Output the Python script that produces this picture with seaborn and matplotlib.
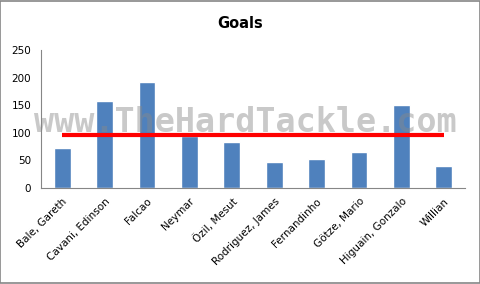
import matplotlib
matplotlib.use("Agg")
import matplotlib.pyplot as plt
import seaborn as sns
import pandas as pd
from matplotlib.patches import Rectangle

players = ["Bale, Gareth", "Cavani, Edinson", "Falcao", "Neymar", "Özil, Mesut",
           "Rodriguez, James", "Fernandinho", "Götze, Mario", "Higuain, Gonzalo", "Willian"]
goals = [73, 158, 192, 95, 83, 47, 52, 65, 150, 40]
average = sum(goals) / len(goals)
yticks = [0, 50, 100, 150, 200, 250]

sns.set_theme(style="white")
plt.rcParams['font.family'] = ['DejaVu Sans']

df = pd.DataFrame({"player": players, "goals": goals})

fig = plt.figure(figsize=(4.81, 2.84), dpi=100)
ax = fig.add_axes([41/481, 96/284, 424/481, 138/284])

sns.barplot(data=df, x="player", y="goals", color="#4F81BD", width=0.4,
            saturation=1, ax=ax, zorder=2)
ax.plot([0, len(players) - 1], [average, average], color="#FF0000", lw=3, zorder=4,
        solid_capstyle="butt")

ax.set_xlim(-0.5, len(players) - 0.5)
ax.set_ylim(0, 250)
ax.set_yticks(yticks)
ax.set_yticklabels([str(t) for t in yticks], fontsize=7.5)
ax.set_xticks(range(len(players)))
ax.set_xticklabels(players, rotation=45, ha="right", rotation_mode="anchor", fontsize=7.5)
ax.tick_params(axis="x", which="major", length=0, pad=6)
ax.set_xticks([i - 0.5 for i in range(len(players) + 1)], minor=True)
ax.tick_params(axis="x", which="minor", length=4, color="#868686", width=0.8, direction="out")
ax.tick_params(axis="y", which="major", length=4, color="#868686", width=0.8, direction="out", pad=3)
ax.tick_params(axis="both", labelcolor="black")
ax.set_xlabel("")
ax.set_ylabel("")
for s in ["top", "right"]:
    ax.spines[s].set_visible(False)
for s in ["left", "bottom"]:
    ax.spines[s].set_color("#868686")
    ax.spines[s].set_linewidth(0.8)

fig.text(0.5, 1 - 23/284, "Goals", ha="center", va="center", fontsize=10.5,
         fontweight="bold", color="black")

ax.text(245/481, 1 - 123/284, "www.TheHardTackle.com", ha="center", va="center",
        fontsize=24, fontweight="bold", family="DejaVu Sans Mono", color="#888888",
        alpha=0.45, zorder=3, transform=fig.transFigure, clip_on=False)

fig.patches.append(Rectangle((0.001, 0.002), 0.997, 0.995, transform=fig.transFigure,
                             fill=False, edgecolor="#868686", lw=1.2))

fig.savefig("out.png", dpi=100)
